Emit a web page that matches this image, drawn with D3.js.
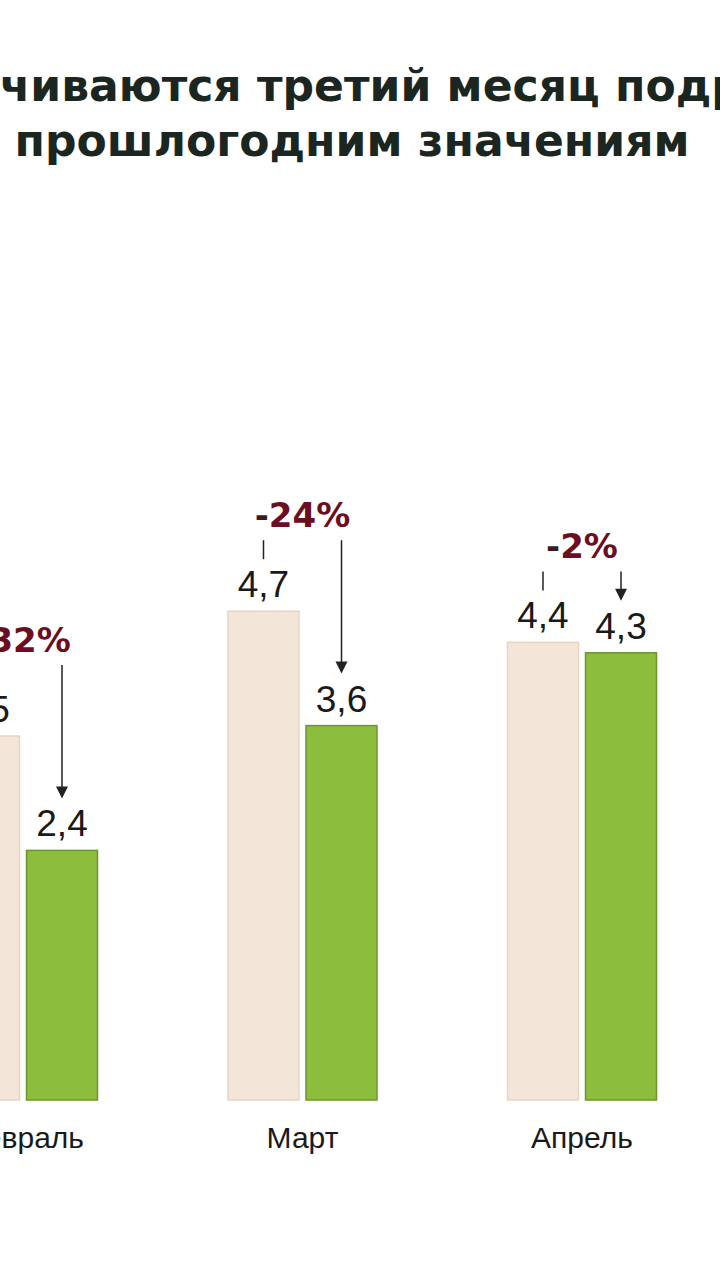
<!DOCTYPE html>
<html><head><meta charset="utf-8">
<script src="https://cdn.jsdelivr.net/npm/d3@7"></script>
<style>html,body{margin:0;padding:0;background:#fff;overflow:hidden}</style>
</head><body>
<svg id="c" width="720" height="1280"></svg>
<script>
const categories = ["Февраль", "Март", "Апрель"];
const prevYear = [3.5, 4.7, 4.4];
const currYear = [2.4, 3.6, 4.3];
const changeLabels = ["-32%", "-24%", "-2%"];
const titleLines = ["чиваются третий месяц подряд", "прошлогодним значениям"];

const svg = d3.select("#c");
svg.append("rect").attr("width",720).attr("height",1280).attr("fill","#fff");

const x = d3.scalePoint().domain(categories).range([23, 582]);
const inner = d3.scaleBand().domain(["prev","curr"]).range([-74.5, 74.5]).paddingInner(0.09);
const y = d3.scaleLinear().domain([0, 5]).range([1100, 580]);

// title
const t = svg.append("g").attr("font-family","'DejaVu Sans', Verdana, sans-serif").attr("font-weight","bold").attr("fill","#1c2620");
const l2 = t.append("text").attr("x",352).attr("y",156).attr("text-anchor","middle").attr("font-size",40).text(titleLines[1]);
const w = l2.node().getComputedTextLength();
const fs = 40 * 675 / w;
l2.attr("font-size", fs);
t.append("text").attr("x",0).attr("y",101).attr("font-size",fs).text(titleLines[0]);

const data = categories.map((c,i)=>({c, prev:prevYear[i], curr:currYear[i], lab:changeLabels[i]}));
const g = svg.append("g");

data.forEach(d=>{
  const cx = x(d.c);
  const px = cx + inner("prev"), gx = cx + inner("curr"), bw = inner.bandwidth();
  const pTop = y(d.prev), cTop = y(d.curr);
  g.append("rect").attr("x",px).attr("y",pTop).attr("width",bw).attr("height",y(0)-pTop)
    .attr("fill","#f3e6d9").attr("stroke","#e6d5c5").attr("stroke-width",1.5);
  g.append("rect").attr("x",gx).attr("y",cTop).attr("width",bw).attr("height",y(0)-cTop)
    .attr("fill","#8cbd3d").attr("stroke","#6e9431").attr("stroke-width",1.5);
  const fmt = v => d3.format(".1f")(v).replace(".", ",");
  const pLab = pTop - 14, cLab = cTop - 14;
  g.append("text").attr("x",px+bw/2).attr("y",pLab).attr("text-anchor","middle")
    .attr("font-family","'Liberation Sans', Arial, sans-serif").attr("font-size",37).attr("fill","#1a1a1a").text(fmt(d.prev));
  g.append("text").attr("x",gx+bw/2).attr("y",cLab).attr("text-anchor","middle")
    .attr("font-family","'Liberation Sans', Arial, sans-serif").attr("font-size",37).attr("fill","#1a1a1a").text(fmt(d.curr));
  const tickBottom = pLab - 38, tickTop = pLab - 57;
  g.append("line").attr("x1",px+bw/2).attr("x2",px+bw/2).attr("y1",tickTop).attr("y2",tickBottom)
    .attr("stroke","#222").attr("stroke-width",1.5);
  const tip = cLab - 38;
  g.append("line").attr("x1",gx+bw/2).attr("x2",gx+bw/2).attr("y1",tickTop).attr("y2",tip-10)
    .attr("stroke","#222").attr("stroke-width",1.5);
  g.append("path").attr("d",`M${gx+bw/2-6},${tip-12}L${gx+bw/2+6},${tip-12}L${gx+bw/2},${tip}Z`).attr("fill","#222");
  const pt = g.append("text").attr("x",cx).attr("y",tickTop-13).attr("text-anchor","middle")
    .attr("font-family","'DejaVu Sans', Verdana, sans-serif").attr("font-weight","bold").attr("font-size",34).attr("fill","#6b0e22");
  pt.append("tspan").attr("fill","#3a1a1f").text(d.lab[0]);
  pt.append("tspan").text(d.lab.slice(1));
  g.append("text").attr("x",cx).attr("y",1148).attr("text-anchor","middle")
    .attr("font-family","'Liberation Sans', Arial, sans-serif").attr("font-size",30).attr("fill","#1a1a1a").text(d.c);
});
</script>
</body></html>
